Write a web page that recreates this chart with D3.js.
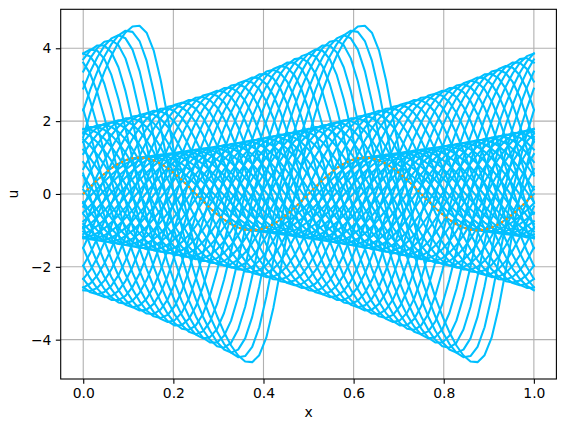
<!DOCTYPE html>
<html><head><meta charset="utf-8">
<script src="https://cdn.jsdelivr.net/npm/d3@7"></script>
<style>body{margin:0;background:#fff}text{font-family:"DejaVu Sans",sans-serif}</style>
</head><body><svg id="c" width="565" height="432"></svg>
<script>
// ---- data ----
const xTicks = [0.0, 0.2, 0.4, 0.6, 0.8, 1.0];
const yTicks = [-4, -2, 0, 2, 4];
// snapshot k: position of its crest (unwrapped), crest height, forward lean of the extrema
const crestPos = [0.125,0.145,0.165,0.185,0.205,0.224,0.244,0.264,0.284,0.304,0.324,0.344,0.364,
  0.383,0.403,0.423,0.443,0.463,0.483,0.503,0.523,0.542,0.562,0.582,0.602,0.622,0.642,0.662,0.682,
  0.702,0.721,0.741,0.761,0.781,0.801,0.821,0.841,0.861,0.880,0.900,0.920,0.940,0.960,0.980,1.000,
  1.020,1.039,1.059,1.079,1.099,1.119];
const crestAmp = [1.000,1.031,1.063,1.096,1.131,1.166,1.202,1.240,1.278,1.318,1.359,1.401,1.445,
  1.490,1.536,1.584,1.633,1.684,1.737,1.791,1.846,1.904,1.963,2.024,2.087,2.152,2.219,2.288,2.359,
  2.433,2.508,2.587,2.667,2.750,2.836,2.924,3.015,3.109,3.206,3.306,3.408,3.515,3.624,3.737,3.853,
  3.973,4.097,4.224,4.356,4.491,4.631];
const crestLean = [0,0.0001,0.0002,0.0002,0.0003,0.0004,0.0005,0.0006,0.0007,0.0009,0.0010,0.0011,
  0.0013,0.0014,0.0016,0.0018,0.0020,0.0022,0.0024,0.0026,0.0028,0.0031,0.0034,0.0036,0.0040,0.0043,
  0.0046,0.0050,0.0054,0.0058,0.0062,0.0067,0.0072,0.0077,0.0083,0.0089,0.0095,0.0102,0.0109,0.0117,
  0.0125,0.0134,0.0143,0.0153,0.0163,0.0174,0.0186,0.0198,0.0212,0.0226,0.0241];
const initAmp = 1.0;      // orange reference curve amplitude
const wavePeriod = 0.5;   // spatial period of the profiles
const nGrid = 64;         // grid cells in x

// ---- layout ----
const L = 60.7, R = 556.4, T = 9.3, B = 379;
const svg = d3.select("#c");
const x = d3.scaleLinear().domain([-0.05, 1.05]).range([L, R]);
const y = d3.scaleLinear().domain([-5.08, 5.07]).range([B, T]);

const xs = d3.range(nGrid + 1).map(i => i / nGrid);

function profile(k) {
  const A = crestAmp[k], d = crestLean[k];
  const s0 = crestPos[k] - wavePeriod / 4 - d;
  const k2 = 2 * Math.PI / wavePeriod;
  return xs.map(xv => {
    let r = (xv - s0) % wavePeriod; if (r < 0) r += wavePeriod;
    let lo = 0, hi = 2 * Math.PI;
    for (let it = 0; it < 50; it++) {
      const m = (lo + hi) / 2;
      const g = m / k2 + d * Math.sin(m) ** 2;
      if (g < r) lo = m; else hi = m;
    }
    const ph = (lo + hi) / 2;
    return [xv, A * Math.sin(ph)];
  });
}

svg.append("clipPath").attr("id", "clp").append("rect")
  .attr("x", L).attr("y", T).attr("width", R - L).attr("height", B - T);

// grid
const g = svg.append("g");
g.selectAll(".gx").data(xTicks).enter().append("line")
  .attr("x1", d => x(d)).attr("x2", d => x(d)).attr("y1", T).attr("y2", B)
  .attr("stroke", "#b0b0b0").attr("stroke-width", 1.1);
g.selectAll(".gy").data(yTicks).enter().append("line")
  .attr("y1", d => y(d)).attr("y2", d => y(d)).attr("x1", L).attr("x2", R)
  .attr("stroke", "#b0b0b0").attr("stroke-width", 1.1);

const line = d3.line().x(d => x(d[0])).y(d => y(d[1]));
const plot = svg.append("g").attr("clip-path", "url(#clp)");

const initial = xs.map(xv => [xv, initAmp * Math.sin(2 * Math.PI * xv / wavePeriod)]);

plot.selectAll(".snap").data(d3.range(crestPos.length)).enter().append("path")
  .attr("d", k => line(profile(k)))
  .attr("fill", "none").attr("stroke", "#00bfff").attr("stroke-width", 2.08)
  .attr("stroke-linejoin", "round").attr("stroke-linecap", "square");

plot.append("path").attr("d", line(initial))
  .attr("fill", "none").attr("stroke", "#ff8c00").attr("stroke-width", 2.08)
  .attr("stroke-dasharray", "2.08,3.43");

// axes
const fmtX = d => d.toFixed(1);
const fmtY = d => (d < 0 ? "\u2212" + Math.abs(d) : "" + d);
const ax = svg.append("g").attr("transform", `translate(0,${B})`)
  .call(d3.axisBottom(x).tickValues(xTicks).tickFormat(fmtX).tickSize(4.86).tickPadding(4.4));
const ay = svg.append("g").attr("transform", `translate(${L},0)`)
  .call(d3.axisLeft(y).tickValues(yTicks).tickFormat(fmtY).tickSize(4.86).tickPadding(4.4));
[ax, ay].forEach(a => {
  a.select(".domain").remove();
  a.selectAll("line").attr("stroke", "#000").attr("stroke-width", 1.1);
  a.selectAll("text").attr("font-size", "13.9px").attr("fill", "#000")
    .style("font-family", "DejaVu Sans");
});
svg.append("rect").attr("x", L).attr("y", T).attr("width", R - L).attr("height", B - T)
  .attr("fill", "none").attr("stroke", "#000").attr("stroke-width", 1.1);

svg.append("text").attr("x", (L + R) / 2).attr("y", 417).attr("text-anchor", "middle")
  .attr("font-size", "13.9px").text("x");
svg.append("text").attr("transform", `translate(18,${(T + B) / 2}) rotate(-90)`)
  .attr("text-anchor", "middle").attr("font-size", "13.9px").text("u");
</script></body></html>
